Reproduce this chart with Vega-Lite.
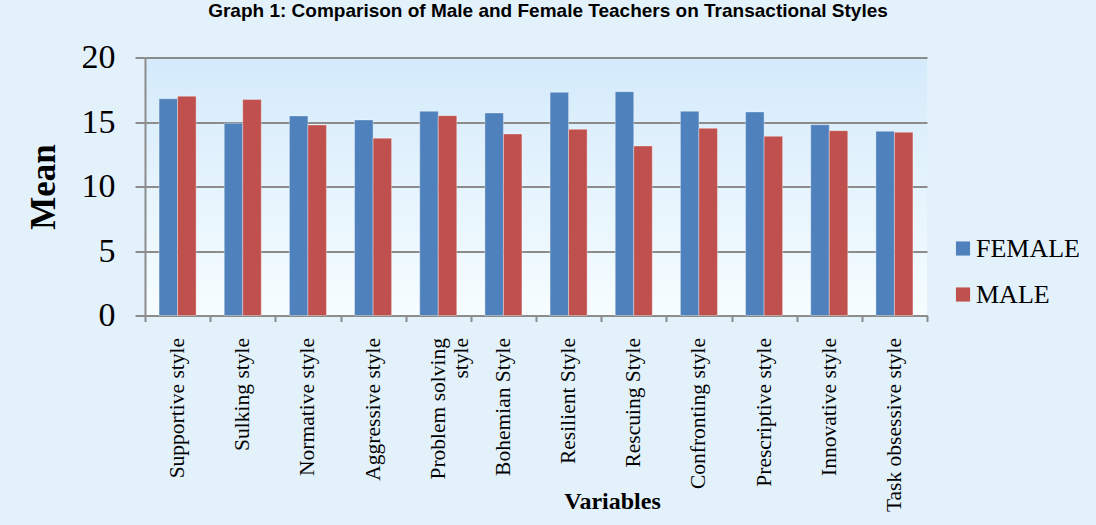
{
  "$schema": "https://vega.github.io/schema/vega-lite/v6.json",
  "width": 782,
  "height": 258,
  "autosize": {"type": "none"},
  "padding": {"left": 145, "top": 57.5, "right": 169, "bottom": 209.5},
  "background": "#e3f1fb",
  "title": {
    "text": "Graph 1: Comparison of Male and Female Teachers on Transactional Styles",
    "font": "Liberation Sans",
    "fontSize": 19,
    "fontWeight": "bold",
    "color": "#000000",
    "anchor": "middle",
    "frame": "group",
    "baseline": "alphabetic",
    "dx": 12,
    "offset": 5
  },
  "config": {
    "view": {"stroke": null, "fill": {"gradient": "linear", "x1": 0, "y1": 0, "x2": 0, "y2": 1, "stops": [{"offset": 0, "color": "#d4eafb"}, {"offset": 1, "color": "#f6fdff"}]}},
    "axis": {"labelFont": "Liberation Serif", "titleFont": "Liberation Serif", "labelColor": "#000000", "titleColor": "#000000", "domainColor": "#8c8c8c", "tickColor": "#8c8c8c", "gridColor": "#8c8c8c", "domainWidth": 2, "tickWidth": 2, "gridWidth": 2, "gridOpacity": 1}
  },
  "data": {
    "values": [
      {"style": "Supportive style", "gender": "FEMALE", "mean": 16.8},
      {"style": "Supportive style", "gender": "MALE", "mean": 17.0},
      {"style": "Sulking style", "gender": "FEMALE", "mean": 14.9},
      {"style": "Sulking style", "gender": "MALE", "mean": 16.75},
      {"style": "Normative style", "gender": "FEMALE", "mean": 15.47},
      {"style": "Normative style", "gender": "MALE", "mean": 14.77},
      {"style": "Aggressive style", "gender": "FEMALE", "mean": 15.16},
      {"style": "Aggressive style", "gender": "MALE", "mean": 13.75},
      {"style": "Problem solving style", "gender": "FEMALE", "mean": 15.83},
      {"style": "Problem solving style", "gender": "MALE", "mean": 15.49},
      {"style": "Bohemian Style", "gender": "FEMALE", "mean": 15.7},
      {"style": "Bohemian Style", "gender": "MALE", "mean": 14.07},
      {"style": "Resilient Style", "gender": "FEMALE", "mean": 17.3},
      {"style": "Resilient Style", "gender": "MALE", "mean": 14.43},
      {"style": "Rescuing Style", "gender": "FEMALE", "mean": 17.35},
      {"style": "Rescuing Style", "gender": "MALE", "mean": 13.14},
      {"style": "Confronting style", "gender": "FEMALE", "mean": 15.83},
      {"style": "Confronting style", "gender": "MALE", "mean": 14.51},
      {"style": "Prescriptive style", "gender": "FEMALE", "mean": 15.78},
      {"style": "Prescriptive style", "gender": "MALE", "mean": 13.89},
      {"style": "Innovative style", "gender": "FEMALE", "mean": 14.79},
      {"style": "Innovative style", "gender": "MALE", "mean": 14.33},
      {"style": "Task obsessive style", "gender": "FEMALE", "mean": 14.28},
      {"style": "Task obsessive style", "gender": "MALE", "mean": 14.2}
    ]
  },
  "mark": {"type": "bar", "stroke": "#ffffff", "strokeOpacity": 0.35, "strokeWidth": 1},
  "encoding": {
    "x": {
      "field": "style",
      "type": "nominal",
      "sort": null,
      "scale": {"paddingInner": 0, "paddingOuter": 0},
      "axis": {
        "title": "Variables",
        "titleFontSize": 24,
        "titleFontWeight": "bold",
        "titleX": 467,
        "titleY": 193,
        "titleBaseline": "alphabetic",
        "labelAngle": -90,
        "labelFontSize": 21.5,
        "labelPadding": 16,
        "tickSize": 6,
        "tickBand": "extent",
        "labelLineHeight": 23,
        "labelExpr": "datum.value == 'Problem solving style' ? ['Problem solving', 'style'] : datum.label"
      }
    },
    "xOffset": {
      "field": "gender",
      "type": "nominal",
      "scale": {"paddingInner": 0, "paddingOuter": 0.76}
    },
    "y": {
      "field": "mean",
      "type": "quantitative",
      "scale": {"domain": [0, 20], "nice": false},
      "axis": {
        "title": "Mean",
        "titleFontSize": 35,
        "titleFontWeight": "bold",
        "titleAngle": -90,
        "titleX": -91,
        "titleY": 129,
        "titleBaseline": "alphabetic",
        "titleAlign": "center",
        "values": [0, 5, 10, 15, 20],
        "labelFontSize": 34,
        "tickSize": 10,
        "labelPadding": 20
      }
    },
    "color": {
      "field": "gender",
      "type": "nominal",
      "scale": {"domain": ["FEMALE", "MALE"], "range": ["#4f81bd", "#c0504d"]},
      "legend": {
        "title": null,
        "orient": "none",
        "legendX": 805,
        "legendY": 178,
        "symbolType": "square",
        "symbolSize": 200,
        "symbolStrokeWidth": 0,
        "labelFont": "Liberation Serif",
        "labelFontSize": 26,
        "labelColor": "#000000",
        "labelOffset": 0,
        "rowPadding": 20
      }
    }
  }
}
